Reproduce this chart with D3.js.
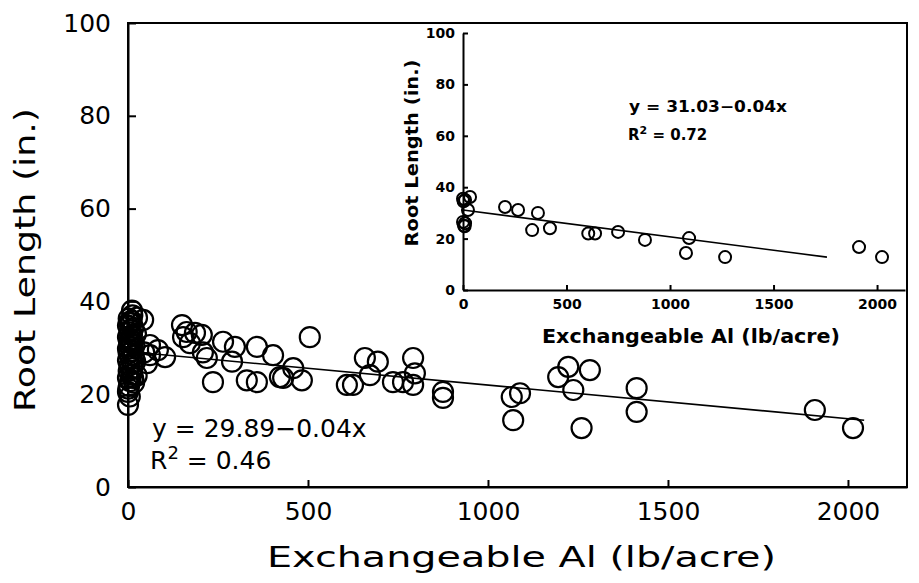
<!DOCTYPE html>
<meta charset="utf-8">
<style>
body { margin: 0; background: #fff; }
text { font-family: 'DejaVu Sans', sans-serif; fill: #000; }
.axis .domain, .axis line { stroke: #000; stroke-width: 2; }
</style>
<body>
<script src="https://cdn.jsdelivr.net/npm/d3@7"></script>
<script>
// main plot: exchangeable Al (lb/acre) vs root length (in.)
const mainAl = [0, 0, 3, 6, 0, 9, 2, 12, 4, 14, 0, 7, 16, 2, 10, 0, 5, 13, 3, 8, 0, 11, 4, 7, 15, 0, 6, 10, 2, 12, 11, 42, 22, 20, 24, 18, 17, 5, 1, 9, 14, 3, 25,
  53, 61, 61, 83, 103, 45,
  150, 163, 153, 186, 205, 172, 208, 219, 236,
  264, 297, 289, 330, 358, 358, 403, 422, 459, 483, 431, 505,
  608, 625, 658, 694, 672, 736, 764, 792, 797, 792,
  875, 875, 1066, 1089, 1070, 1195, 1223, 1283, 1237, 1260, 1413, 1413, 1908, 2014];
const mainRoot = [17.7, 20.5, 21.8, 22.8, 23.5, 24.2, 25, 25.6, 26.2, 26.8, 27.3, 27.8, 28.3, 28.8, 29.3, 29.8, 30.3, 30.8, 31.3, 31.8, 32.3, 32.8, 33.3, 33.8, 34.3, 34.8, 35.3, 35.8, 36.3, 37, 38, 36, 33, 27, 24, 30.5, 22.5, 19.5, 21.2, 31, 23.5, 35.5, 36.5,
  26.7, 28.4, 30.6, 29.5, 28, 29,
  34.9, 33.4, 32.3, 33.2, 32.8, 31, 29, 27.8, 22.6,
  31.3, 30.2, 27, 23, 30.2, 22.6, 28.4, 23.7, 25.6, 23, 23.5, 32.3,
  22, 22, 27.8, 27, 24.1, 22.6, 22.6, 27.8, 24.5, 22,
  20.5, 19.2, 19.4, 20.2, 14.4, 23.7, 25.9, 25.2, 20.9, 12.7, 21.3, 16.2, 16.6, 12.7];
const mainFitAl = [0, 2045];
const mainFitRoot = [29.2, 14.4];

// inset
const insetAl = [10, 34, 24, 10, 5, 3, 0, 8, 0, 203, 266, 362, 334, 420, 605, 638, 749, 879, 1092, 1077, 1266, 1913, 2024];
const insetRoot = [35, 36.2, 31.1, 26, 25, 34.5, 26.5, 24.8, 35.5, 32.3, 31.1, 30, 23.3, 24, 22, 22, 22.6, 19.5, 20.2, 14.4, 12.8, 16.7, 12.8];
const insetFitAl = [0, 1758];
const insetFitRoot = [31.1, 12.8];

const xTicks = [0, 500, 1000, 1500, 2000];
const yTicks = [0, 20, 40, 60, 80, 100];

const svg = d3.select("body").append("svg")
    .attr("width", 919)
    .attr("height", 583);

// ---- main chart
const x = d3.scaleLinear().domain([0, 2164]).range([128, 907]);
const y = d3.scaleLinear().domain([0, 100]).range([487, 23]);

svg.append("rect")
    .attr("x", x(0)).attr("y", y(100))
    .attr("width", x.range()[1] - x(0))
    .attr("height", y(0) - y(100))
    .attr("fill", "none")
    .attr("stroke", "#000")
    .attr("stroke-width", 2);

svg.append("g")
    .attr("class", "axis")
    .attr("transform", "translate(0," + y(0) + ")")
    .call(d3.axisBottom(x).tickValues(xTicks).tickFormat(d3.format("d"))
      .tickSize(-7).tickSizeOuter(0).tickPadding(15))
    .call(g => g.selectAll("text").style("font-size", "25px").style("font-family", "DejaVu Sans"));

svg.append("g")
    .attr("class", "axis")
    .attr("transform", "translate(" + x(0) + ",0)")
    .call(d3.axisLeft(y).tickValues(yTicks).tickSize(-8).tickSizeOuter(0).tickPadding(17))
    .call(g => g.selectAll("text").style("font-size", "25px").style("font-family", "DejaVu Sans"));

const line = d3.line().x(d => x(d[0])).y(d => y(d[1]));
svg.append("path")
    .datum(mainFitAl.map((a, i) => [a, mainFitRoot[i]]))
    .attr("d", line)
    .attr("fill", "none")
    .attr("stroke", "#000")
    .attr("stroke-width", 1.6);

svg.append("g").selectAll("circle")
    .data(mainAl.map((a, i) => [a, mainRoot[i]]))
    .enter()
    .append("circle")
    .attr("cx", d => x(d[0]))
    .attr("cy", d => y(d[1]))
    .attr("r", 10)
    .attr("fill", "none")
    .attr("stroke", "#000")
    .attr("stroke-width", 2.2);

svg.append("text")
    .attr("x", 152).attr("y", 437)
    .style("font-size", "25px")
    .text("y = 29.89\u22120.04x");

const r2 = svg.append("text")
    .attr("x", 150).attr("y", 469)
    .style("font-size", "25px");
r2.append("tspan").text("R");
r2.append("tspan").attr("dy", -10).style("font-size", "18px").text("2");
r2.append("tspan").attr("dy", 10).text(" = 0.46");

svg.append("text")
    .attr("x", (x(0) + x.range()[1]) / 2 + 4)
    .attr("y", 567)
    .attr("text-anchor", "middle")
    .attr("textLength", 509)
    .attr("lengthAdjust", "spacingAndGlyphs")
    .style("font-size", "28px")
    .text("Exchangeable Al (lb/acre)");

svg.append("text")
    .attr("transform", "translate(35,260) rotate(-90)")
    .attr("text-anchor", "middle")
    .attr("textLength", 304)
    .attr("lengthAdjust", "spacingAndGlyphs")
    .style("font-size", "28px")
    .text("Root Length (in.)");

// ---- inset
const ix = d3.scaleLinear().domain([0, 2135]).range([463, 905]);
const iy = d3.scaleLinear().domain([0, 100]).range([290, 33]);

const inset = svg.append("g");

inset.append("g")
    .attr("class", "axis")
    .attr("transform", "translate(0," + iy(0) + ")")
    .call(d3.axisBottom(ix).tickValues(xTicks).tickFormat(d3.format("d"))
      .tickSize(-5).tickSizeOuter(0).tickPadding(9))
    .call(g => g.selectAll("text").style("font-size", "14px").style("font-weight", "bold").style("font-family", "DejaVu Sans"));

inset.append("g")
    .attr("class", "axis")
    .attr("transform", "translate(" + ix(0) + ",0)")
    .call(d3.axisLeft(iy).tickValues(yTicks).tickSize(-5).tickSizeOuter(0).tickPadding(8))
    .call(g => g.selectAll("text").style("font-size", "14px").style("font-weight", "bold").style("font-family", "DejaVu Sans"));

const iline = d3.line().x(d => ix(d[0])).y(d => iy(d[1]));
inset.append("path")
    .datum(insetFitAl.map((a, i) => [a, insetFitRoot[i]]))
    .attr("d", iline)
    .attr("fill", "none")
    .attr("stroke", "#000")
    .attr("stroke-width", 1.6);

inset.append("g").selectAll("circle")
    .data(insetAl.map((a, i) => [a, insetRoot[i]]))
    .enter()
    .append("circle")
    .attr("cx", d => ix(d[0]))
    .attr("cy", d => iy(d[1]))
    .attr("r", 6)
    .attr("fill", "none")
    .attr("stroke", "#000")
    .attr("stroke-width", 2);

inset.append("text")
    .attr("x", 629).attr("y", 112)
    .attr("textLength", 158)
    .attr("lengthAdjust", "spacingAndGlyphs")
    .style("font-size", "15px").style("font-weight", "bold")
    .text("y = 31.03\u22120.04x");

const ir2 = inset.append("text")
    .attr("x", 628).attr("y", 140)
    .style("font-size", "15px").style("font-weight", "bold");
ir2.append("tspan").text("R");
ir2.append("tspan").attr("dy", -6).style("font-size", "11px").text("2");
ir2.append("tspan").attr("dy", 6).text(" = 0.72");

inset.append("text")
    .attr("x", 691).attr("y", 343)
    .attr("text-anchor", "middle")
    .attr("textLength", 298)
    .attr("lengthAdjust", "spacingAndGlyphs")
    .style("font-size", "19px").style("font-weight", "bold")
    .text("Exchangeable Al (lb/acre)");

inset.append("text")
    .attr("transform", "translate(418,153) rotate(-90)")
    .attr("text-anchor", "middle")
    .attr("textLength", 187)
    .attr("lengthAdjust", "spacingAndGlyphs")
    .style("font-size", "17px").style("font-weight", "bold")
    .text("Root Length (in.)");
</script>
</body>
